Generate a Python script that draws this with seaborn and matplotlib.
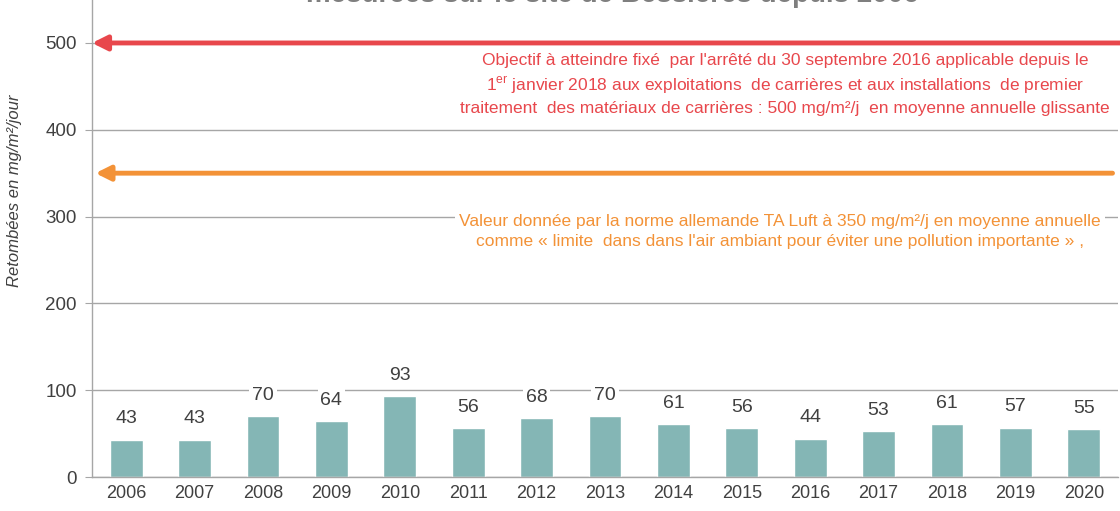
import matplotlib
matplotlib.use("Agg")
import matplotlib.pyplot as plt
import seaborn as sns
import pandas as pd

# --- données ---
annees = ["2006", "2007", "2008", "2009", "2010", "2011", "2012", "2013",
          "2014", "2015", "2016", "2017", "2018", "2019", "2020"]
retombees = [43, 43, 70, 64, 93, 56, 68, 70, 61, 56, 44, 53, 61, 57, 55]
y_ticks = [0, 100, 200, 300, 400, 500]
seuil_arrete = 500
seuil_ta_luft = 350

titre = "mesurées sur le site de Bessières depuis 2006"
texte_arrete = ("Objectif à atteindre fixé  par l'arrêté du 30 septembre 2016 applicable depuis le\n"
                "1$^{\\mathrm{er}}$ janvier 2018 aux exploitations  de carrières et aux installations  de premier\n"
                "traitement  des matériaux de carrières : 500 mg/m²/j  en moyenne annuelle glissante")
texte_ta_luft = ("Valeur donnée par la norme allemande TA Luft à 350 mg/m²/j en moyenne annuelle\n"
                 "comme « limite  dans dans l'air ambiant pour éviter une pollution importante » ,")

ROUGE = "#e8474c"
ORANGE = "#f39237"
BARRE = "#84b6b5"
GRIS = "#a6a6a6"
TEXTE = "#404040"

sns.set_style("white")
plt.rcParams['font.family'] = ['Liberation Sans', 'DejaVu Sans']
plt.rcParams['mathtext.fontset'] = 'custom'
plt.rcParams['mathtext.rm'] = 'Liberation Sans'

df = pd.DataFrame({"annee": annees, "valeur": retombees})

fig = plt.figure(figsize=(11.2, 5.11), dpi=100)
ax = fig.add_axes([92 / 1120, 34 / 511, 1026 / 1120, 477 / 511])

sns.barplot(data=df, x="annee", y="valeur", color=BARRE, width=0.48,
            saturation=1, ax=ax, zorder=2)

ax.set_xlim(-0.5, len(annees) - 0.5)
ax.set_ylim(0, 549.5)
ax.set_yticks(y_ticks)
ax.yaxis.grid(True, color=GRIS, lw=1, zorder=0)
ax.set_axisbelow(True)

# ticks entre les catégories
ax.set_xticks([i - 0.5 for i in range(len(annees) + 1)], minor=True)
ax.tick_params(axis="x", which="major", length=0, labelsize=13, labelcolor=TEXTE, pad=6)
ax.tick_params(axis="x", which="minor", length=6, color=GRIS, width=1, direction="out")
ax.tick_params(axis="y", length=5, color=GRIS, labelsize=13.5, labelcolor=TEXTE, pad=6, left=True)

for s in ["top", "right"]:
    ax.spines[s].set_visible(False)
for s in ["left", "bottom"]:
    ax.spines[s].set_color(GRIS)
    ax.spines[s].set_linewidth(1)

ax.set_xlabel("")
ax.set_ylabel("Retombées en mg/m²/jour", fontsize=12, style="italic", color=TEXTE)
ax.yaxis.set_label_coords(-0.068, 0.6)

# étiquettes de valeurs
for i, v in enumerate(retombees):
    ax.text(i, v + 24, str(v), ha="center", va="center", fontsize=14, color=TEXTE,
            bbox=dict(facecolor="white", edgecolor="none", pad=2), zorder=3)

# flèches des seuils
ax.annotate("", xy=(-0.5, seuil_arrete), xytext=(15.05, seuil_arrete),
            arrowprops=dict(arrowstyle="-|>", color=ROUGE, lw=3.5, mutation_scale=22,
                            shrinkA=0, shrinkB=0),
            annotation_clip=False, zorder=4)
ax.annotate("", xy=(-0.45, seuil_ta_luft), xytext=(14.42, seuil_ta_luft),
            arrowprops=dict(arrowstyle="-|>", color=ORANGE, lw=3.5, mutation_scale=22,
                            shrinkA=0, shrinkB=0),
            annotation_clip=False, zorder=4)

ax.text(9.63, 452, texte_arrete, ha="center", va="center", fontsize=12.5,
        color=ROUGE, linespacing=1.4, zorder=3,
        bbox=dict(facecolor="white", edgecolor="none", pad=1))
ax.text(9.56, 283, texte_ta_luft, ha="center", va="center", fontsize=12.5,
        color=ORANGE, linespacing=1.4, zorder=3,
        bbox=dict(facecolor="white", edgecolor="none", pad=3))

# titre coupé en haut de l'image
fig.text(0.547, 1 - 1.5 / 511, titre, ha="center", va="baseline", fontsize=20,
         fontweight="bold", color="#7f7f7f")

fig.savefig("out.png", dpi=100)
